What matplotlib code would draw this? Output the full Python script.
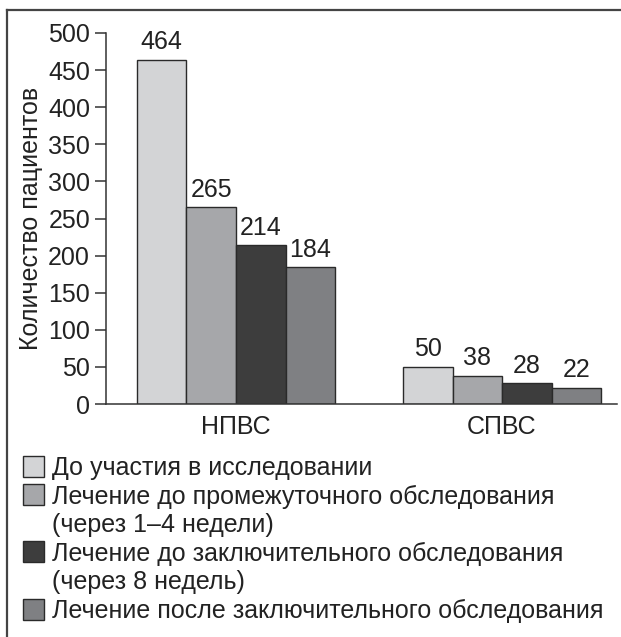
import matplotlib.pyplot as plt
from matplotlib.patches import Rectangle
from matplotlib.lines import Line2D

# Patient counts by drug group and study stage
groups = ["НПВС", "СПВС"]
stages = [
    "До участия в исследовании",
    "Лечение до промежуточного обследования\n(через 1–4 недели)",
    "Лечение до заключительного обследования\n(через 8 недель)",
    "Лечение после заключительного обследования",
]
counts = [
    [464, 50],
    [265, 38],
    [214, 28],
    [184, 22],
]
colors = ["#d3d4d6", "#a6a7aa", "#3d3d3d", "#7f8083"]

plt.rcParams["font.family"] = ["Liberation Sans", "DejaVu Sans"]
FS = 18

W, H = 621, 637
fig = plt.figure(figsize=(W / 100, H / 100), dpi=100)
ax = fig.add_axes([106 / W, 1 - 404 / H, 511 / W, 371 / H])

width = 0.1861
x = range(len(groups))
for i, (vals, col) in enumerate(zip(counts, colors)):
    pos = [g - 2 * width + i * width for g in x]
    bars = ax.bar(pos, vals, width=width, align="edge", color=col,
                  edgecolor="#2a2a2a", linewidth=1.0)
    ax.bar_label(bars, labels=[str(v) for v in vals], padding=4, fontsize=FS,
                 color="#222222")

ax.set_xlim(-0.4887, 1.4323)
ax.set_ylim(0, 500)
ax.set_yticks(range(0, 501, 50))
ax.set_xticks(list(x))
ax.set_xticklabels(groups)
ax.tick_params(axis="y", length=8, width=1.1, pad=3.5, labelsize=FS,
               colors="#333333", labelcolor="#222222")
ax.tick_params(axis="x", length=0, pad=8, labelsize=FS, labelcolor="#222222")
for side in ("top", "right"):
    ax.spines[side].set_visible(False)
for side in ("left", "bottom"):
    ax.spines[side].set_color("#333333")
    ax.spines[side].set_linewidth(1.1)

ax.set_ylabel("Количество пациентов", fontsize=FS, color="#222222")
ax.yaxis.label.set_va("center")
ax.yaxis.set_label_coords((31 - 106) / 511, 0.5)

# legend drawn by hand: square beside the first line of each entry,
# continuation lines hang under the text
sq = 21
step = 28.6
yc = 466
for label, col in zip(stages, colors):
    fig.patches.append(Rectangle((23 / W, 1 - (yc + sq / 2) / H), sq / W, sq / H,
                                 transform=fig.transFigure, facecolor=col,
                                 edgecolor="#2a2a2a", linewidth=1.0))
    for line in label.split("\n"):
        fig.text(52 / W, 1 - (yc + 9) / H, line, fontsize=FS, color="#222222",
                 va="baseline", ha="left", transform=fig.transFigure)
        yc += step

# frame around the figure (top and left edges)
fig.add_artist(Line2D([7 / W, 1], [1 - 10 / H, 1 - 10 / H], color="#444444",
                      linewidth=1.6, transform=fig.transFigure))
fig.add_artist(Line2D([7 / W, 7 / W], [1 - 10 / H, 0], color="#444444",
                      linewidth=1.6, transform=fig.transFigure))

fig.savefig("out.png", dpi=100)
